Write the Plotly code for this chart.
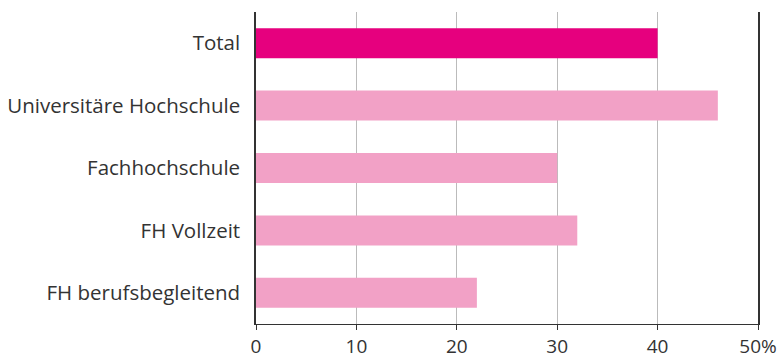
import plotly.graph_objects as go

categories = ["Total", "Universitäre Hochschule", "Fachhochschule", "FH Vollzeit", "FH berufsbegleitend"]
values = [40, 46, 30, 32, 22]
colors = ["#E6007E", "#F2A1C6", "#F2A1C6", "#F2A1C6", "#F2A1C6"]
tick_vals = [0, 10, 20, 30, 40, 50]
tick_text = ["0", "10", "20", "30", "40", "50%"]

fig = go.Figure(go.Bar(
    x=values, y=categories, orientation="h",
    marker=dict(color=colors, line=dict(width=0)),
    width=0.48,
    hoverinfo="skip",
))

fig.update_layout(
    width=782, height=358,
    margin=dict(l=256, r=24, t=12, b=34, autoexpand=False),
    paper_bgcolor="white", plot_bgcolor="white",
    font=dict(family="Open Sans", size=20.5, color="#333333"),
    showlegend=False,
)
fig.update_xaxes(
    range=[0, 50], tickvals=tick_vals, ticktext=tick_text,
    showgrid=True, gridcolor="#BBBBBB", gridwidth=1,
    showline=True, linecolor="#333333", linewidth=1,
    ticks="outside", ticklen=5, tickcolor="#333333",
    tickfont=dict(size=19),
    zeroline=False, fixedrange=True, automargin=False,
)
fig.update_yaxes(
    categoryorder="array", categoryarray=categories[::-1],
    showline=True, mirror=True, linecolor="#333333", linewidth=1.5,
    showgrid=False, ticks="", ticklabelstandoff=10,
    fixedrange=True, automargin=False,
)

fig.write_html(
    "out.html",
    config={"displayModeBar": False},
    post_script="document.body.style.margin='0px';document.body.style.padding='0px';",
)
